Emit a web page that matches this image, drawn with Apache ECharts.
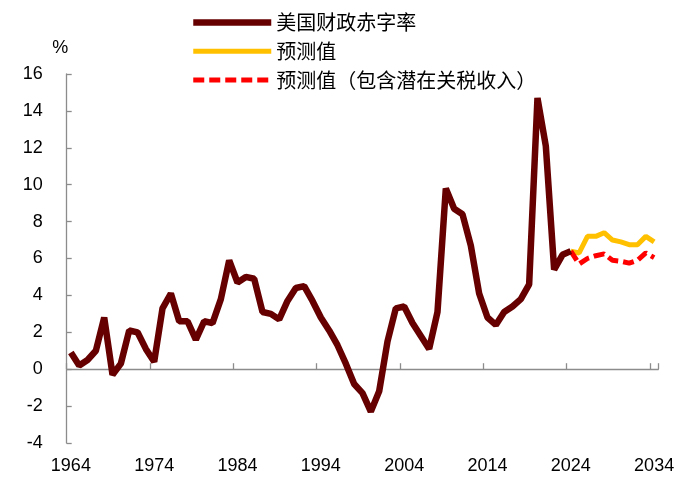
<!DOCTYPE html>
<html>
<head>
<meta charset="utf-8">
<script src="https://cdn.jsdelivr.net/npm/echarts@6/dist/echarts.min.js"></script>
<style>
html,body{margin:0;padding:0;background:#fff;}
#chart{width:700px;height:488px;}
</style>
</head>
<body>
<div id="chart"></div>
<script>
// Years 1964..2034 (category axis)
const years = [];
for (let y = 1964; y <= 2034; y++) years.push(String(y));

// US federal deficit, % of GDP, 1964..2024
const deficit = [
  0.9, 0.2, 0.5, 1.0, 2.8, -0.3, 0.3, 2.1, 2.0, 1.1,
  0.4, 3.3, 4.1, 2.6, 2.6, 1.6, 2.6, 2.5, 3.8, 5.9,
  4.7, 5.0, 4.9, 3.1, 3.0, 2.7, 3.7, 4.4, 4.5, 3.7,
  2.8, 2.1, 1.3, 0.3, -0.8, -1.3, -2.3, -1.2, 1.5, 3.3,
  3.4, 2.5, 1.8, 1.1, 3.1, 9.8, 8.7, 8.4, 6.7, 4.1,
  2.8, 2.4, 3.1, 3.4, 3.8, 4.6, 14.7, 12.1, 5.4, 6.2,
  6.4
];
// Forecast, 2024..2034
const forecast = [6.4, 6.3, 7.2, 7.2, 7.4, 7.0, 6.9, 6.75, 6.75, 7.2, 6.9];
// Forecast incl. potential tariff revenue, 2024..2034
const forecastTariff = [6.4, 5.7, 6.0, 6.15, 6.25, 5.9, 5.85, 5.75, 5.9, 6.3, 6.05];

const yTicks = { min: -4, max: 16, interval: 2 };
const names = ['美国财政赤字率', '预测值', '预测值（包含潜在关税收入）'];

const forecastStart = years.indexOf('2024');
function pad(arr, start) {
  const out = years.map(() => '-');
  arr.forEach((v, i) => { out[start + i] = v; });
  return out;
}

const FONT = '"Liberation Sans", Arial, "Noto Sans CJK SC", sans-serif';
const chart = echarts.init(document.getElementById('chart'), null, { renderer: 'canvas' });
chart.setOption({
  animation: false,
  backgroundColor: '#fff',
  textStyle: { fontFamily: FONT, color: '#000' },
  legend: {
    orient: 'vertical',
    left: 185,
    top: 7.5,
    itemWidth: 78,
    itemHeight: 14,
    itemGap: 8.8,
    itemStyle: { opacity: 0, color: 'rgba(0,0,0,0)', borderWidth: 0 },
    lineStyle: { width: 'inherit', type: 'inherit', cap: 'butt' },
    textStyle: { fontSize: 20, lineHeight: 20, color: '#000', fontFamily: '"Noto Sans CJK SC", sans-serif' },
    data: names
  },
  grid: { left: 66.7, right: 41.7, top: 74, bottom: 45, containLabel: false, outerBoundsMode: 'none' },
  xAxis: [
    {
      type: 'category',
      data: years,
      boundaryGap: true,
      axisLine: { onZero: true, lineStyle: { color: '#8c8c8c', width: 1.3 } },
      axisTick: { show: true, inside: true, length: 6, interval: 9, lineStyle: { color: '#8c8c8c', width: 1.3 } },
      axisLabel: { show: false },
      splitLine: { show: false }
    },
    {
      type: 'category',
      data: years,
      boundaryGap: true,
      position: 'bottom',
      axisLine: { show: false, onZero: false },
      axisTick: { show: false },
      axisLabel: { interval: 9, fontSize: 18, color: '#000', margin: 14, fontFamily: FONT },
      splitLine: { show: false }
    }
  ],
  yAxis: {
    type: 'value',
    min: yTicks.min,
    max: yTicks.max,
    interval: yTicks.interval,
    name: '%',
    nameLocation: 'end',
    nameGap: 17,
    nameTextStyle: { fontSize: 18, color: '#000', fontFamily: FONT, padding: [0, 13, 0, 0] },
    axisLine: { show: true, lineStyle: { color: '#8c8c8c', width: 1.3 } },
    axisTick: { show: true, inside: true, length: 5, lineStyle: { color: '#8c8c8c', width: 1.3 } },
    axisLabel: { fontSize: 18, color: '#000', margin: 24, fontFamily: FONT },
    splitLine: { show: false }
  },
  series: [
    {
      name: names[1],
      type: 'line',
      data: pad(forecast, forecastStart),
      symbol: 'none',
      lineStyle: { color: '#FFC000', width: 5 },
      itemStyle: { color: '#FFC000' },
      z: 2
    },
    {
      name: names[2],
      type: 'line',
      data: pad(forecastTariff, forecastStart),
      symbol: 'none',
      lineStyle: { color: '#FF0000', width: 5, type: [11, 5] },
      itemStyle: { color: '#FF0000' },
      z: 3
    },
    {
      name: names[0],
      type: 'line',
      data: pad(deficit, 0),
      symbol: 'none',
      lineStyle: { color: '#660000', width: 6.5 },
      itemStyle: { color: '#660000' },
      z: 4
    }
  ]
});
</script>
</body>
</html>
